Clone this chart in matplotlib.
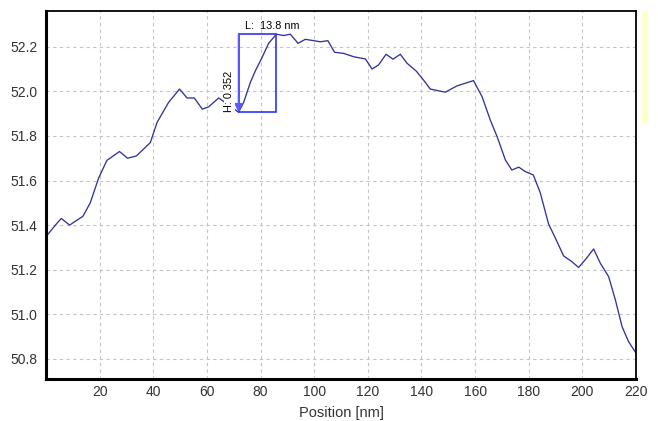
import numpy as np
import matplotlib.pyplot as plt
from matplotlib.patches import Rectangle, FancyArrowPatch

plt.rcParams['font.family'] = ['Liberation Sans', 'DejaVu Sans']

# perfil: posicion (nm) y altura
posicion = np.array([0.1, 3.5, 5.7, 8.8, 13.8, 16.5, 19.6, 22.7, 27.4, 30.4, 33.7, 38.9,
                     41.4, 45.7, 49.8, 52.6, 55.3, 58.3, 60.6, 64.4, 68.0, 71.8, 73.7,
                     76.2, 78.0, 80.5, 83.0, 85.9, 88.6, 91.1, 94.0, 96.7, 99.8, 102.3,
                     105.1, 107.6, 111.0, 114.7, 119.1, 121.6, 124.0, 126.8, 129.4,
                     132.1, 134.6, 138.1, 140.8, 143.3, 148.9, 153.2, 159.4, 162.6,
                     165.7, 168.2, 171.3, 173.7, 176.3, 178.7, 181.7, 184.3, 187.4,
                     190.0, 193.0, 196.1, 198.6, 201.7, 204.2, 206.7, 209.8, 212.3,
                     214.8, 217.2, 220.0])
altura = np.array([51.35, 51.40, 51.43, 51.40, 51.44, 51.50, 51.61, 51.69, 51.73, 51.70,
                   51.71, 51.77, 51.86, 51.95, 52.01, 51.97, 51.97, 51.92, 51.93, 51.97,
                   51.94, 51.906, 51.95, 52.04, 52.09, 52.15, 52.215, 52.256, 52.25,
                   52.256, 52.215, 52.233, 52.227, 52.222, 52.227, 52.175, 52.17,
                   52.155, 52.145, 52.10, 52.118, 52.166, 52.144, 52.166, 52.126,
                   52.09, 52.05, 52.01, 51.996, 52.024, 52.048, 51.976, 51.87, 51.797,
                   51.692, 51.647, 51.66, 51.64, 51.625, 51.545, 51.405, 51.34, 51.262,
                   51.236, 51.21, 51.254, 51.293, 51.229, 51.169, 51.065, 50.945,
                   50.878, 50.826])

# medida marcada
x_ini, x_fin = 71.8, 85.9
y_min, y_max = 51.906, 52.256
etiqueta_L = 'L:  13.8 nm'
etiqueta_H = 'H: 0.352'

fig = plt.figure(figsize=(6.58, 4.21), dpi=100)
ax = fig.add_axes([46 / 658, 1 - 379 / 421, 590 / 658, 368 / 421])

ax.plot(posicion, altura, color='#33339a', lw=0.95)

ax.add_patch(Rectangle((x_ini, y_min), x_fin - x_ini, y_max - y_min,
                       fill=False, edgecolor='#3030ff', lw=1.2, zorder=4))
ax.add_patch(FancyArrowPatch((x_ini, y_max), (x_ini, y_min), arrowstyle='-|>',
                             mutation_scale=12, color='#5a5aff', lw=1.2, zorder=5,
                             shrinkA=0, shrinkB=0))
ax.text(74.3, y_max + 0.013, etiqueta_L, fontsize=7.8,
        ha='left', va='bottom', color='black')
ax.text(68.3, y_min, etiqueta_H, fontsize=7.8, rotation=90,
        ha='center', va='bottom', color='black', zorder=6,
        bbox=dict(facecolor='white', edgecolor='none', pad=0.5))

ax.set_xlim(0, 220)
ax.set_ylim(50.71, 52.36)
ax.set_xticks(np.arange(20, 221, 20))
ax.set_yticks([50.8, 51.0, 51.2, 51.4, 51.6, 51.8, 52.0, 52.2])
ax.yaxis.set_major_formatter(plt.FormatStrFormatter('%.1f'))
ax.tick_params(length=0, labelsize=10, labelcolor='#333333')
ax.tick_params(axis='y', pad=6)
ax.tick_params(axis='x', pad=4)
ax.grid(True, color='#c4c4c4', linestyle=(0, (3, 3)), lw=0.8)
for lado in ['left', 'bottom']:
    ax.spines[lado].set_linewidth(2.2)
for lado in ['top', 'right']:
    ax.spines[lado].set_linewidth(1.3)

ax.set_xlabel('Position [nm]', fontsize=10.5, color='#333333', labelpad=5)

# franja amarilla a la derecha
fig.patches.append(Rectangle((642 / 658, 1 - 123 / 421), 5 / 658, 112 / 421,
                             transform=fig.transFigure, color='#ffffcc', zorder=0))

fig.savefig('out.png', dpi=100)
